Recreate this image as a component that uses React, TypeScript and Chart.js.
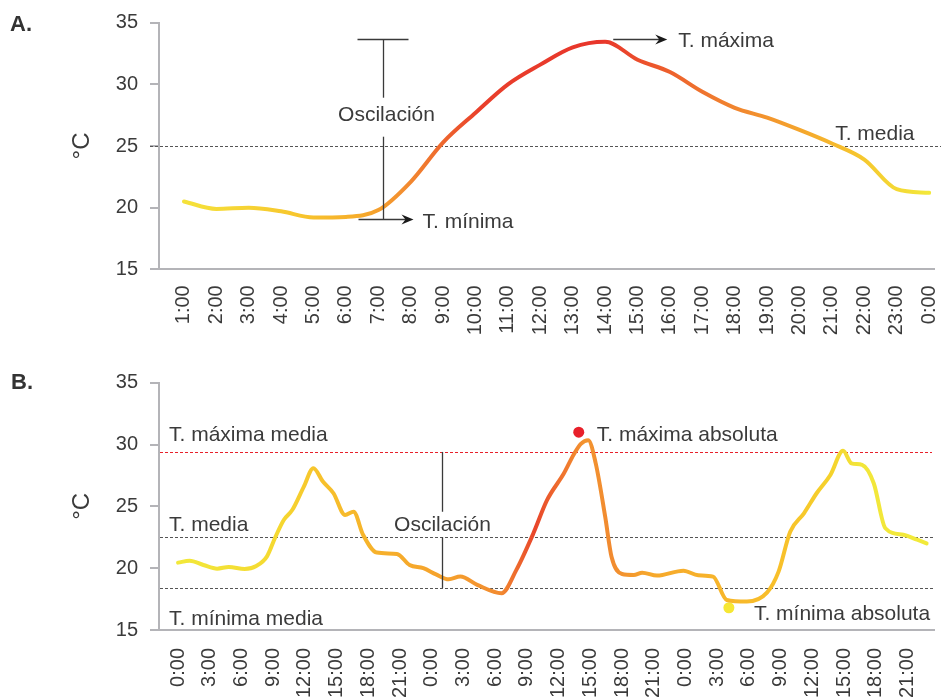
import React, { useEffect, useRef } from 'react';
import { Chart, registerables } from 'chart.js';

Chart.register(...registerables);

const FONT = "'Liberation Sans', Arial, Helvetica, sans-serif";
const TEXT = '#3b3b3b';
const AXIS = '#b4b4b8';
const DASH = '#555555';

// ---------- Panel A: one day ----------
const labelsA = ['1:00', '2:00', '3:00', '4:00', '5:00', '6:00', '7:00', '8:00', '9:00', '10:00', '11:00', '12:00',
  '13:00', '14:00', '15:00', '16:00', '17:00', '18:00', '19:00', '20:00', '21:00', '22:00', '23:00', '0:00'];
const tempsA = [20.5, 19.9, 20.0, 19.7, 19.2, 19.25, 19.8, 22.1, 25.3, 27.7, 30.0, 31.6,
  33.0, 33.45, 32.0, 31.0, 29.4, 28.1, 27.3, 26.3, 25.2, 23.9, 21.5, 21.2];
const tMediaA = 25;
const tMaxA = 33.7;
const tMinA = 19.1;
const oscIndexA = 6.15;
const maxArrowIndexA = 13.25;
const mediaLabelIndexA = 20.1;

// ---------- Panel B: three days ----------
const hoursB = [0, 1.1, 2.4, 3.7, 4.8, 6.3, 7.4, 8.4, 9.2, 10.0, 10.8, 11.9, 12.8, 13.7, 14.7, 15.8, 16.6, 17.5,
  18.8, 20.7, 21.9, 23.2, 24.4, 25.6, 26.7, 28.3, 30.6, 32.0, 33.6, 34.9, 36.5, 37.4, 38.1, 38.8, 39.5, 40.4,
  41.0, 42.0, 43.1, 43.9, 45.3, 47.8, 49.2, 50.6, 51.9, 53.8, 55.7, 56.8, 57.9, 59.2, 60.4, 61.7, 62.9, 63.7,
  64.7, 65.8, 66.9, 68.6, 69.9, 70.8];
const tempsB = [20.45, 20.6, 20.26, 19.96, 20.1, 19.94, 20.18, 20.93, 22.5, 23.9, 24.7, 26.6, 28.08, 27.0, 26.06,
  24.3, 24.57, 22.7, 21.26, 21.15, 20.26, 20.0, 19.5, 19.1, 19.32, 18.65, 17.98, 19.86, 22.8, 25.5, 27.67, 29.15,
  30.05, 30.35, 28.5, 24.17, 20.93, 19.53, 19.45, 19.64, 19.4, 19.8, 19.42, 19.32, 17.43, 17.3, 18.02, 19.72,
  22.95, 24.44, 26.06, 27.54, 29.5, 28.48, 28.35, 26.87, 23.23, 22.7, 22.3, 22.0];
const tickHoursB = [0, 3, 6, 9, 12, 15, 18, 21, 24, 27, 30, 33, 36, 39, 42, 45, 48, 51, 54, 57, 60, 63, 66, 69];
const tickLabelsB = ['0:00', '3:00', '6:00', '9:00', '12:00', '15:00', '18:00', '21:00',
  '0:00', '3:00', '6:00', '9:00', '12:00', '15:00', '18:00', '21:00',
  '0:00', '3:00', '6:00', '9:00', '12:00', '15:00', '18:00', '21:00'];
const tMaxMediaB = 29.4;
const tMediaB = 22.5;
const tMinMediaB = 18.4;
const absMaxHourB = [37.9];
const absMaxTempB = [31.0];
const absMinHourB = [52.1];
const absMinTempB = [16.8];
const oscHourB = 25;

const yTicks = [15, 20, 25, 30, 35];

// colour stops along the x axis (x value, colour)
const gradStopsA: [number, string][] = [
  [0, '#f5e23a'], [3.6, '#f7c52d'], [5.4, '#f6ac2b'], [6.7, '#f39030'], [7.9, '#ee6a2e'], [9.1, '#e9402b'],
  [12.8, '#e8352b'], [14.4, '#ec552c'], [16.5, '#f07d2f'], [18.7, '#f4a02d'], [20.6, '#f6c22d'], [23, '#f3e83a'],
];
const gradStopsB: [number, string][] = [
  [0, '#f2e83a'], [9.6, '#f5d830'], [13.4, '#f7c22c'], [19.1, '#f6b02b'], [25.7, '#f5a02d'], [30.5, '#f28a30'],
  [33.8, '#e8452b'], [36.1, '#ef702e'], [38.5, '#f39530'], [40.9, '#f18a30'], [44.7, '#f6a82c'], [51.3, '#f7b52a'],
  [57, '#f8c02a'], [61.7, '#f5d22c'], [64.5, '#f2e63a'], [71, '#f2ea3a'],
];

function gradientColor(stops: [number, string][]) {
  return (c: any) => {
    const chart = c.chart;
    const area = chart.chartArea;
    if (!area) return stops[0][1];
    const xs = chart.scales.x;
    const g = chart.ctx.createLinearGradient(area.left, 0, area.right, 0);
    for (const [v, col] of stops) {
      const p = (xs.getPixelForValue(v) - area.left) / area.width;
      g.addColorStop(Math.min(1, Math.max(0, p)), col);
    }
    return g;
  };
}

function dashed(ctx: CanvasRenderingContext2D, x1: number, x2: number, y: number, color: string) {
  ctx.save();
  ctx.strokeStyle = color;
  ctx.lineWidth = 1;
  ctx.setLineDash([3, 2]);
  ctx.beginPath();
  ctx.moveTo(x1, Math.round(y) + 0.5);
  ctx.lineTo(x2, Math.round(y) + 0.5);
  ctx.stroke();
  ctx.restore();
}

function vline(ctx: CanvasRenderingContext2D, x: number, y1: number, y2: number) {
  ctx.beginPath();
  ctx.moveTo(x, y1);
  ctx.lineTo(x, y2);
  ctx.stroke();
}

function arrow(ctx: CanvasRenderingContext2D, x1: number, x2: number, y: number) {
  ctx.beginPath();
  ctx.moveTo(x1, y);
  ctx.lineTo(x2 - 6, y);
  ctx.stroke();
  ctx.beginPath();
  ctx.moveTo(x2, y);
  ctx.lineTo(x2 - 12, y - 5);
  ctx.lineTo(x2 - 8, y);
  ctx.lineTo(x2 - 12, y + 5);
  ctx.closePath();
  ctx.fill();
}

function text(ctx: CanvasRenderingContext2D, s: string, x: number, y: number, align: CanvasTextAlign = 'left') {
  ctx.save();
  ctx.font = `21px ${FONT}`;
  ctx.fillStyle = TEXT;
  ctx.textAlign = align;
  ctx.textBaseline = 'alphabetic';
  ctx.fillText(s, x, y);
  ctx.restore();
}

function panelLetter(ctx: CanvasRenderingContext2D, s: string, x: number, y: number) {
  ctx.save();
  ctx.font = `bold 22px ${FONT}`;
  ctx.fillStyle = '#333333';
  ctx.textBaseline = 'alphabetic';
  ctx.fillText(s, x, y);
  ctx.restore();
}

function yScale(title: boolean) {
  return {
    type: 'linear',
    min: 15,
    max: 35,
    afterBuildTicks: (s: any) => { s.ticks = yTicks.map((v) => ({ value: v })); },
    afterFit: (s: any) => { s.width = 159; s.paddingTop = 0; s.paddingBottom = 0; },
    grid: { display: true, drawOnChartArea: false, drawTicks: true, tickLength: 9, color: AXIS, lineWidth: 2 },
    border: { display: true, color: AXIS, width: 2 },
    ticks: { padding: 12, color: TEXT, font: { family: FONT, size: 20 } },
    title: { display: title, text: '°C', color: TEXT, font: { family: FONT, size: 24 }, padding: { top: 68, bottom: 0 } },
  };
}

const annotA = {
  id: 'annotA',
  beforeDatasetsDraw(chart: any) {
    const { ctx, chartArea: a, scales: { y } } = chart;
    dashed(ctx, a.left - 9, chart.width, y.getPixelForValue(tMediaA), DASH);
  },
  afterDatasetsDraw(chart: any) {
    const { ctx, chartArea: a, scales: { x, y } } = chart;
    ctx.save();
    ctx.strokeStyle = '#3a3a3a';
    ctx.fillStyle = '#1a1a1a';
    ctx.lineWidth = 1.3;
    const bx = Math.round(x.getPixelForValue(oscIndexA)) + 0.5;
    const top = Math.round(y.getPixelForValue(tMaxA)) + 0.5;
    const bot = Math.round(y.getPixelForValue(tMinA)) + 0.5;
    const mid = y.getPixelForValue(27.7);
    // cap
    ctx.beginPath();
    ctx.moveTo(bx - 26, top);
    ctx.lineTo(bx + 25, top);
    ctx.stroke();
    vline(ctx, bx, top, mid - 15);
    vline(ctx, bx, mid + 24, bot);
    arrow(ctx, bx - 25, bx + 30, bot);
    const ax = x.getPixelForValue(maxArrowIndexA);
    arrow(ctx, ax, ax + 54, top);
    ctx.restore();
    text(ctx, 'Oscilación', bx + 3, mid + 8, 'center');
    text(ctx, 'T. mínima', bx + 39, bot + 8);
    text(ctx, 'T. máxima', ax + 65, top + 7);
    text(ctx, 'T. media', x.getPixelForValue(mediaLabelIndexA), y.getPixelForValue(tMediaA) - 6);
    panelLetter(ctx, 'A.', 10, 31);
  },
};

const annotB = {
  id: 'annotB',
  beforeDatasetsDraw(chart: any) {
    const { ctx, chartArea: a, scales: { y } } = chart;
    dashed(ctx, a.left + 1, a.right - 2, y.getPixelForValue(tMaxMediaB), '#e8202a');
    dashed(ctx, a.left + 1, a.right + 1, y.getPixelForValue(tMediaB), DASH);
    dashed(ctx, a.left + 1, a.right + 1, y.getPixelForValue(tMinMediaB), DASH);
  },
  afterDatasetsDraw(chart: any) {
    const { ctx, chartArea: a, scales: { x, y } } = chart;
    const yMax = y.getPixelForValue(tMaxMediaB);
    const yMed = y.getPixelForValue(tMediaB);
    const yMin = y.getPixelForValue(tMinMediaB);
    ctx.save();
    ctx.strokeStyle = '#3a3a3a';
    ctx.lineWidth = 1.3;
    const bx = Math.round(x.getPixelForValue(oscHourB)) + 0.5;
    vline(ctx, bx, yMax, yMed - 25.5);
    vline(ctx, bx, yMed, yMin);
    ctx.restore();
    text(ctx, 'T. máxima media', a.left + 10, yMax - 11);
    text(ctx, 'T. media', a.left + 10, yMed - 6.5);
    text(ctx, 'T. mínima media', a.left + 10, a.bottom - 5.5);
    text(ctx, 'Oscilación', bx, yMed - 6.5, 'center');
    const mx = x.getPixelForValue(absMaxHourB[0]);
    const my = y.getPixelForValue(absMaxTempB[0]);
    text(ctx, 'T. máxima absoluta', mx + 18, my + 9);
    const nx = x.getPixelForValue(absMinHourB[0]);
    const ny = y.getPixelForValue(absMinTempB[0]);
    text(ctx, 'T. mínima absoluta', nx + 25, ny + 12.5);
    panelLetter(ctx, 'B.', 11, 39);
  },
};

export default function App() {
  const refA = useRef<HTMLCanvasElement>(null);
  const refB = useRef<HTMLCanvasElement>(null);

  useEffect(() => {
    const chartA = new Chart(refA.current as HTMLCanvasElement, {
      type: 'line',
      data: {
        datasets: [{
          data: tempsA.map((t, i) => ({ x: i, y: t })),
          borderColor: gradientColor(gradStopsA) as any,
          borderWidth: 4,
          pointRadius: 0,
          cubicInterpolationMode: 'monotone',
          borderCapStyle: 'round',
          fill: false,
        }],
      },
      options: {
        animation: false,
        responsive: false,
        devicePixelRatio: 1,
        events: [],
        layout: { padding: { top: 22.7, right: 7, left: 0, bottom: 0 } },
        plugins: { legend: { display: false }, tooltip: { enabled: false } },
        scales: {
          x: {
            type: 'linear',
            min: -0.77,
            max: 23.15,
            afterBuildTicks: (s: any) => { s.ticks = labelsA.map((_, i) => ({ value: i })); },
            afterFit: (s: any) => { s.height = 80.7; s.paddingLeft = 0; s.paddingRight = 0; },
            grid: { display: false, drawTicks: false },
            border: { display: true, color: AXIS, width: 2 },
            ticks: {
              autoSkip: false, maxRotation: 90, minRotation: 90, padding: 16, color: TEXT,
              font: { family: FONT, size: 20 },
              callback: (v: any) => labelsA[Math.round(Number(v))],
            },
          } as any,
          y: yScale(true) as any,
        },
      },
      plugins: [annotA],
    });

    const chartB = new Chart(refB.current as HTMLCanvasElement, {
      type: 'line',
      data: {
        datasets: [
          {
            data: hoursB.map((h, i) => ({ x: h, y: tempsB[i] })),
            borderColor: gradientColor(gradStopsB) as any,
            borderWidth: 4,
            pointRadius: 0,
            cubicInterpolationMode: 'monotone',
            borderCapStyle: 'round',
            fill: false,
          },
          {
            data: absMaxHourB.map((h, i) => ({ x: h, y: absMaxTempB[i] })),
            showLine: false,
            pointRadius: 5.5,
            pointBorderWidth: 0,
            pointBackgroundColor: '#e8202a',
            borderColor: '#e8202a',
          },
          {
            data: absMinHourB.map((h, i) => ({ x: h, y: absMinTempB[i] })),
            showLine: false,
            pointRadius: 5.5,
            pointBorderWidth: 0,
            pointBackgroundColor: '#f6e734',
            borderColor: '#f6e734',
          },
        ],
      },
      options: {
        animation: false,
        responsive: false,
        devicePixelRatio: 1,
        events: [],
        layout: { padding: { top: 32.7, right: 7, left: 0, bottom: 0 } },
        plugins: { legend: { display: false }, tooltip: { enabled: false } },
        scales: {
          x: {
            type: 'linear',
            min: -1.8,
            max: 71.5,
            afterBuildTicks: (s: any) => { s.ticks = tickHoursB.map((v) => ({ value: v })); },
            afterFit: (s: any) => { s.height = 70; s.paddingLeft = 0; s.paddingRight = 0; },
            grid: { display: false, drawTicks: false },
            border: { display: true, color: AXIS, width: 2 },
            ticks: {
              autoSkip: false, maxRotation: 90, minRotation: 90, padding: 18, color: TEXT,
              font: { family: FONT, size: 20 },
              callback: (v: any) => tickLabelsB[tickHoursB.indexOf(Math.round(Number(v)))],
            },
          } as any,
          y: yScale(true) as any,
        },
      },
      plugins: [annotB],
    });

    return () => {
      chartA.destroy();
      chartB.destroy();
    };
  }, []);

  return (
    <div style={{ position: 'absolute', left: 0, top: 0, width: 941, height: 700, background: '#ffffff', overflow: 'hidden' }}>
      <canvas ref={refA} width={941} height={350} style={{ position: 'absolute', left: 0, top: 0, display: 'block' }} />
      <canvas ref={refB} width={941} height={350} style={{ position: 'absolute', left: 0, top: 350, display: 'block' }} />
    </div>
  );
}
